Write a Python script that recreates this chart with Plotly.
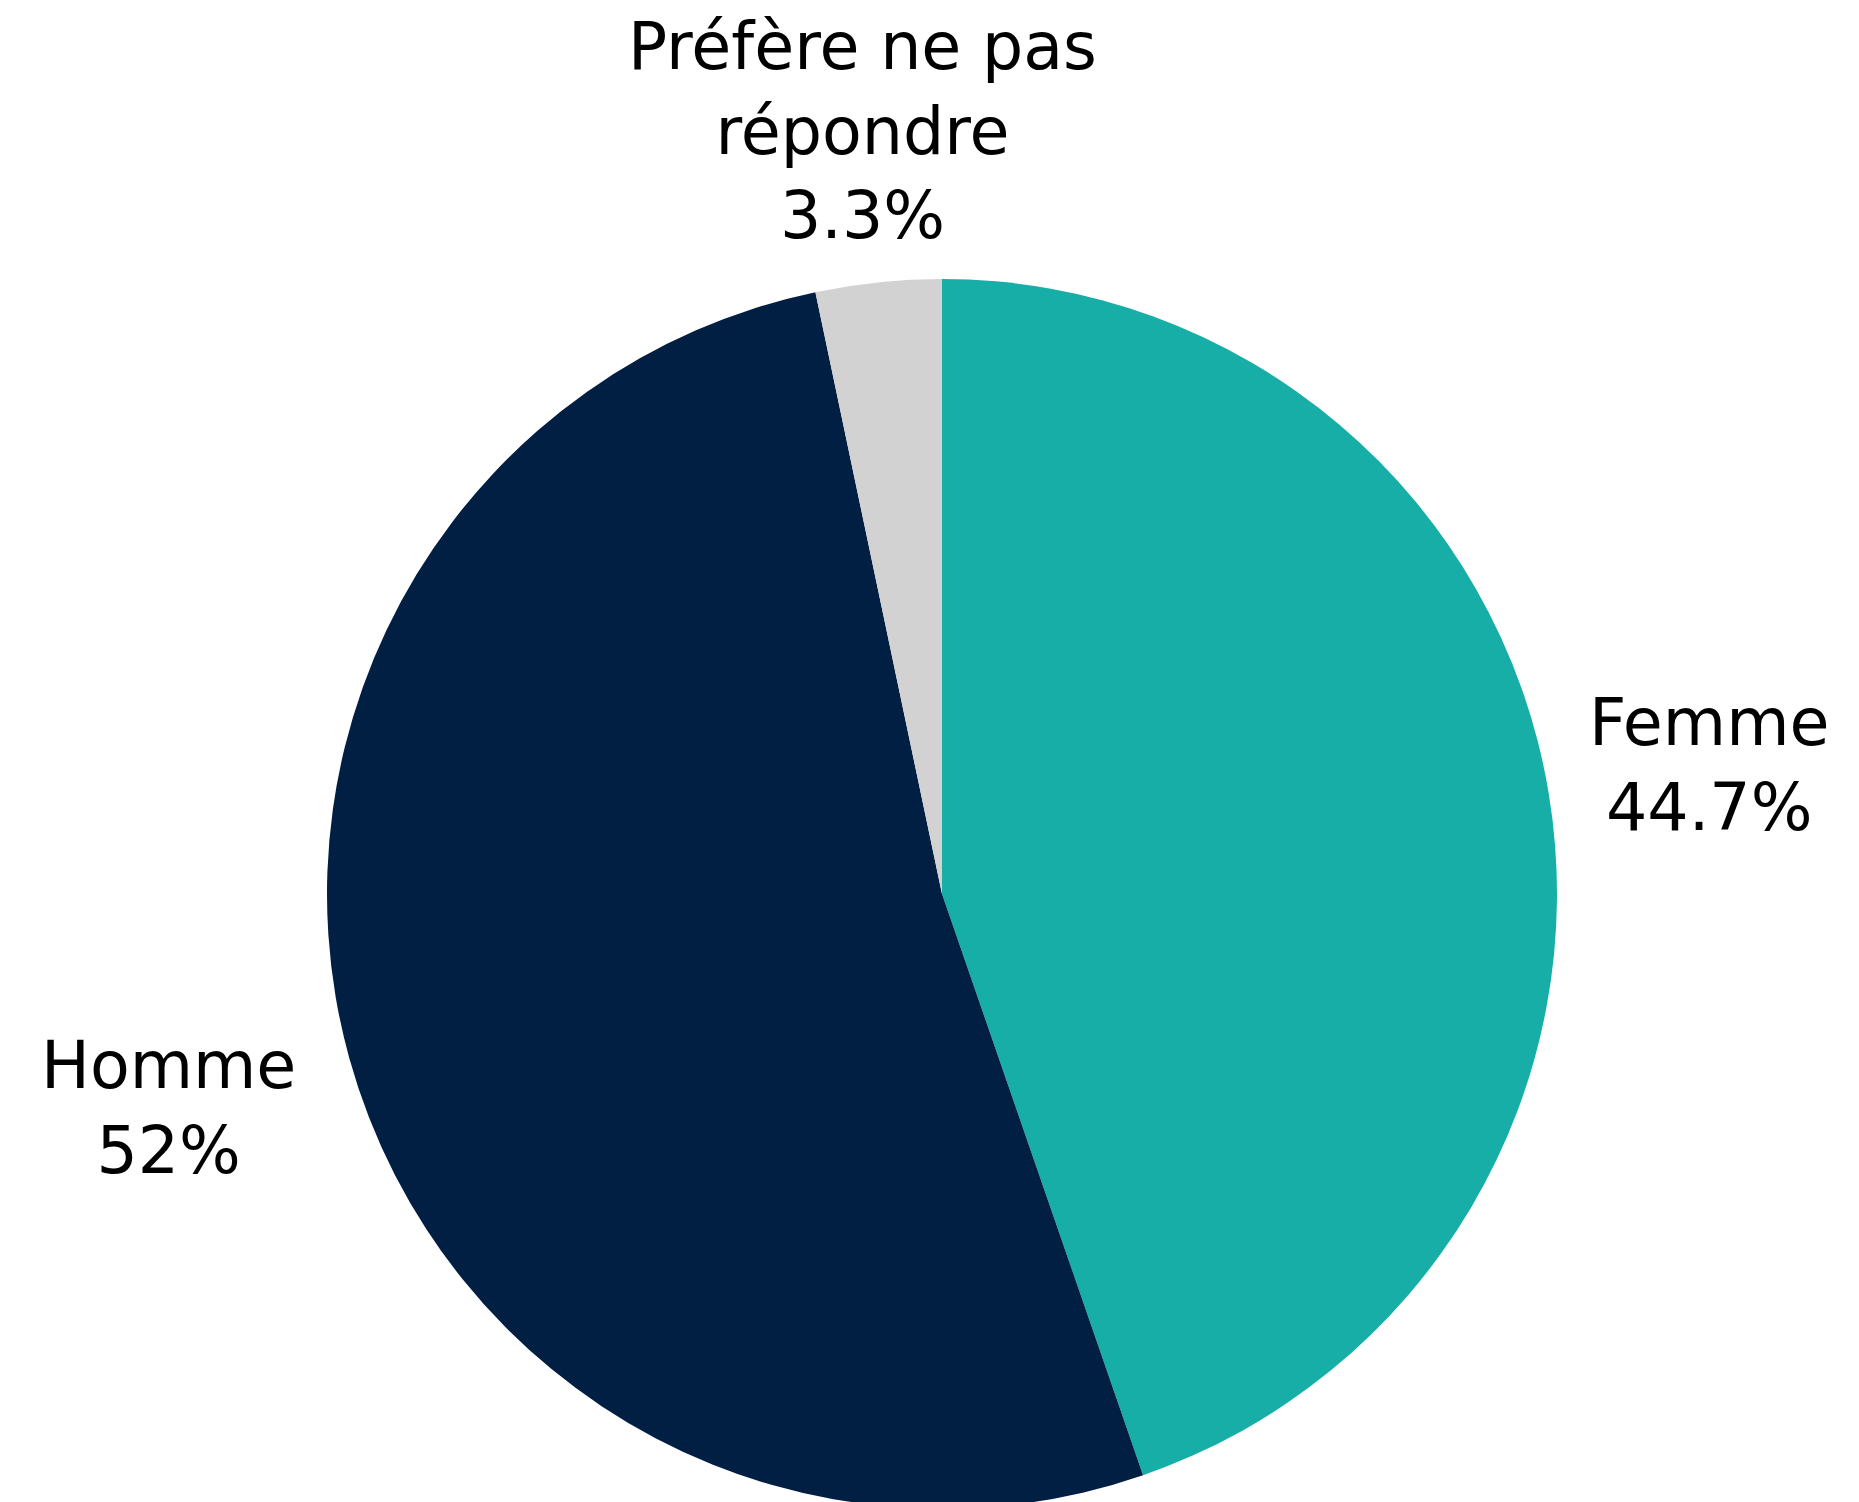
import math
import plotly.graph_objects as go

labels = ["Femme", "Homme", "Préfère ne pas<br>répondre"]
values = [44.7, 52.0, 3.3]
colors = ["#16AEA6", "#011E43", "#D2D2D2"]

# layout constants (pixels)
W, H = 1859, 1501
M_L, M_R, M_T = 319, 310, 271
PLOT_W = W - M_L - M_R
PLOT_H = H - M_T
LABEL_DIST = [1.265, 1.305, 1.248]   # label centre distance per slice, in pie radii
FONT = dict(family="DejaVu Sans", size=65, color="#000000")

fig = go.Figure(
    go.Pie(
        labels=labels,
        values=values,
        sort=False,
        direction="clockwise",
        rotation=0,
        marker=dict(colors=colors, line=dict(width=0)),
        textinfo="none",
        showlegend=False,
        hoverinfo="label+percent",
        domain=dict(x=[0, 1], y=[0, 1]),
    )
)

# labels placed along each slice's mid-angle, outside the pie
radius_px = min(PLOT_W, PLOT_H) / 2
total = sum(values)
cum = 0.0
annotations = []
for lab, v, k in zip(labels, values, LABEL_DIST):
    mid = (cum + v / 2) / total * 2 * math.pi  # clockwise from 12 o'clock
    cum += v
    pct = v / total * 100
    x = 0.5 + k * radius_px * math.sin(mid) / PLOT_W
    y = 0.5 + k * radius_px * math.cos(mid) / PLOT_H
    annotations.append(
        dict(
            x=x, y=y, xref="paper", yref="paper",
            text=f"{lab}<br>{pct:.3g}%",
            showarrow=False, xanchor="center", yanchor="middle",
            align="center", font=FONT,
        )
    )

fig.update_layout(
    width=W,
    height=H,
    margin=dict(l=M_L, r=M_R, t=M_T, b=0, pad=0),
    paper_bgcolor="#FFFFFF",
    plot_bgcolor="#FFFFFF",
    font=FONT,
    annotations=annotations,
)

fig.write_html("out.html")
